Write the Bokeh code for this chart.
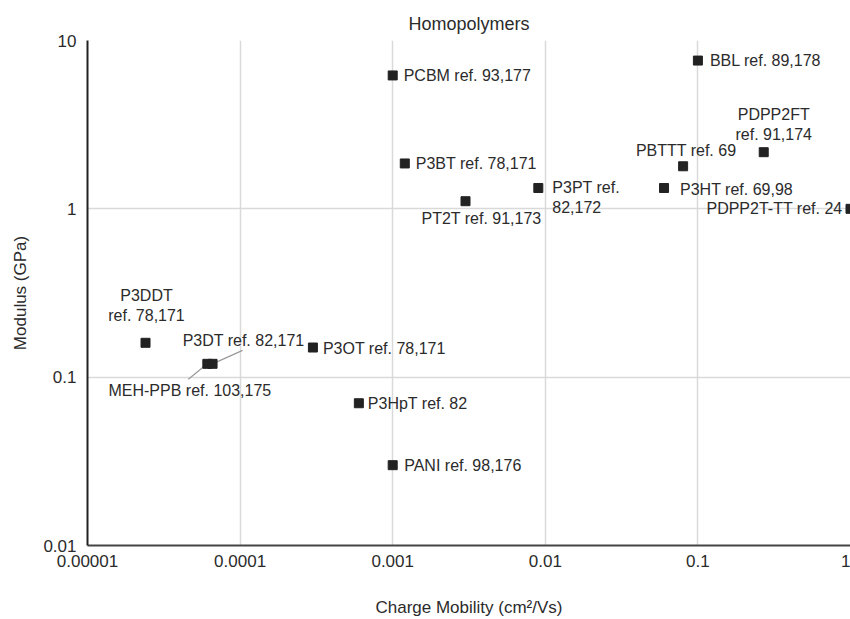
from bokeh.plotting import figure
from bokeh.models import ColumnDataSource, Range1d, FixedTicker, CustomJSTickFormatter
from bokeh.core.properties import value
from bokeh.embed import file_html
from bokeh.resources import INLINE

# ---------------- data ----------------
polymers = ["PCBM", "BBL", "P3BT", "PT2T", "P3PT", "P3HT", "PBTTT", "PDPP2FT",
            "PDPP2T-TT", "P3DDT", "P3DT", "MEH-PPB", "P3OT", "P3HpT", "PANI"]
labels = ["PCBM ref. 93,177", "BBL ref. 89,178", "P3BT ref. 78,171", "PT2T ref. 91,173",
          "P3PT ref.\n82,172", "P3HT ref. 69,98", "PBTTT ref. 69", "PDPP2FT\nref. 91,174",
          "PDPP2T-TT ref. 24", "P3DDT\nref. 78,171", "P3DT ref. 82,171",
          "MEH-PPB ref. 103,175", "P3OT ref. 78,171", "P3HpT ref. 82", "PANI ref. 98,176"]
mobility = [0.001, 0.1, 0.0012, 0.003, 0.009, 0.06, 0.08, 0.27,
            1.0, 2.4e-5, 6.6e-5, 6.1e-5, 0.0003, 0.0006, 0.001]   # cm2/Vs
modulus = [6.2, 7.6, 1.86, 1.11, 1.33, 1.33, 1.79, 2.17,
           1.0, 0.16, 0.12, 0.12, 0.15, 0.07, 0.03]               # GPa

x_ticks = [1e-5, 1e-4, 1e-3, 1e-2, 1e-1, 1]
x_tick_labels = ["0.00001", "0.0001", "0.001", "0.01", "0.1", "1"]
y_ticks = [0.01, 0.1, 1, 10]
y_tick_labels = ["0.01", "0.1", "1", "10"]

# ---------------- layout (label placement, pixels) ----------------
label_layout = {
    "PCBM": (11, 0, "left"), "BBL": (12, 0, "left"), "P3BT": (11, 0, "left"),
    "PT2T": (16, 17, "center"), "P3PT": (14, 9.5, "left"), "P3HT": (16, 2, "left"),
    "PBTTT": (3, -16, "center"), "PDPP2FT": (10, -27.5, "center"),
    "PDPP2T-TT": (-8, 0, "right"), "P3DDT": (1, -37.5, "center"),
    "P3DT": (31, -23, "center"), "MEH-PPB": (-17.5, 26.6, "center"),
    "P3OT": (10, 1, "left"), "P3HpT": (9, 0, "left"), "PANI": (11.5, 0, "left"),
}
leader_px = {"P3DT": (30, -13.5), "MEH-PPB": (-19, 15.5)}

W, H = 850, 619
LEFT, RIGHT, TOP, BOTTOM = 87, 0, 40, 74
px_per_dec_x = (W - LEFT - RIGHT) / 5.0
px_per_dec_y = (H - TOP - BOTTOM) / 3.0

FONT = "Liberation Sans"
TXT = "#2b2b2b"

p = figure(width=W, height=H, x_axis_type="log", y_axis_type="log",
           x_range=Range1d(1e-5, 1), y_range=Range1d(0.01, 10),
           output_backend="svg", toolbar_location=None,
           min_border_left=LEFT, min_border_right=RIGHT,
           min_border_top=TOP, min_border_bottom=BOTTOM,
           title="Homopolymers")
p.outline_line_color = None
p.background_fill_color = "white"
p.border_fill_color = "white"

p.title.align = "center"
p.title.text_font = FONT
p.title.text_font_size = "18px"
p.title.text_font_style = "normal"
p.title.text_color = TXT
p.title.standoff = 13

fmt_code = """
let best = 0, bd = 1e9;
for (let i = 0; i < tvals.length; i++) {
  const d = Math.abs(Math.log10(tick) - Math.log10(tvals[i]));
  if (d < bd) { bd = d; best = i; }
}
return tlabs[best];
"""
xt = FixedTicker(ticks=x_ticks, minor_ticks=[])
yt = FixedTicker(ticks=y_ticks, minor_ticks=[])
p.xaxis.ticker = xt
p.yaxis.ticker = yt
p.xgrid.ticker = xt
p.ygrid.ticker = yt
p.xaxis.formatter = CustomJSTickFormatter(args=dict(tvals=x_ticks, tlabs=x_tick_labels), code=fmt_code)
p.yaxis.formatter = CustomJSTickFormatter(args=dict(tvals=y_ticks, tlabs=y_tick_labels), code=fmt_code)

for ax in (p.xaxis, p.yaxis):
    ax.major_tick_line_color = None
    ax.minor_tick_line_color = None
    ax.major_tick_out = 0
    ax.major_tick_in = 0
    ax.major_label_text_font = FONT
    ax.major_label_text_font_size = "17px"
    ax.major_label_text_color = TXT
    ax.axis_label_text_font = FONT
    ax.axis_label_text_font_size = "17px"
    ax.axis_label_text_font_style = "normal"
    ax.axis_label_text_color = TXT
    ax.axis_line_width = 2

p.xaxis.axis_label = "Charge Mobility (cm²/Vs)"
p.yaxis.axis_label = "Modulus (GPa)"
p.xaxis.axis_line_color = "#444444"
p.yaxis.axis_line_color = "#222222"
p.xaxis.major_label_standoff = 9
p.yaxis.major_label_standoff = 11
p.xaxis.axis_label_standoff = 28
p.yaxis.axis_label_standoff = 10

for g in (p.xgrid, p.ygrid):
    g.grid_line_color = "#d9d9d9"
    g.grid_line_width = 1.5

# leader lines
lx0, ly0, lx1, ly1 = [], [], [], []
for name, (dx, dy) in leader_px.items():
    i = polymers.index(name)
    lx0.append(mobility[i]); ly0.append(modulus[i])
    lx1.append(mobility[i] * 10 ** (dx / px_per_dec_x))
    ly1.append(modulus[i] * 10 ** (-dy / px_per_dec_y))
p.segment(x0=lx0, y0=ly0, x1=lx1, y1=ly1, line_color="#9a9a9a", line_width=1.2)

# markers
p.scatter(x=mobility, y=modulus, marker="square", size=9, fill_color="#222222",
          line_color="#222222")

# labels, grouped by alignment
for align in ("left", "center", "right"):
    xs, ys, ts, dxs, dys = [], [], [], [], []
    for i, name in enumerate(polymers):
        dx, dy, a = label_layout[name]
        if a != align:
            continue
        xs.append(mobility[i]); ys.append(modulus[i]); ts.append(labels[i])
        dxs.append(dx); dys.append(dy)
    if not xs:
        continue
    src = ColumnDataSource(dict(x=xs, y=ys, t=ts, dx=dxs, dy=dys))
    p.text(x="x", y="y", text="t", x_offset="dx", y_offset="dy", source=src,
           text_align=align, text_baseline="middle", text_font=value(FONT),
           text_font_size="16px", text_color=TXT, text_line_height=1.2)

open("out.html", "w").write(file_html(p, INLINE))
